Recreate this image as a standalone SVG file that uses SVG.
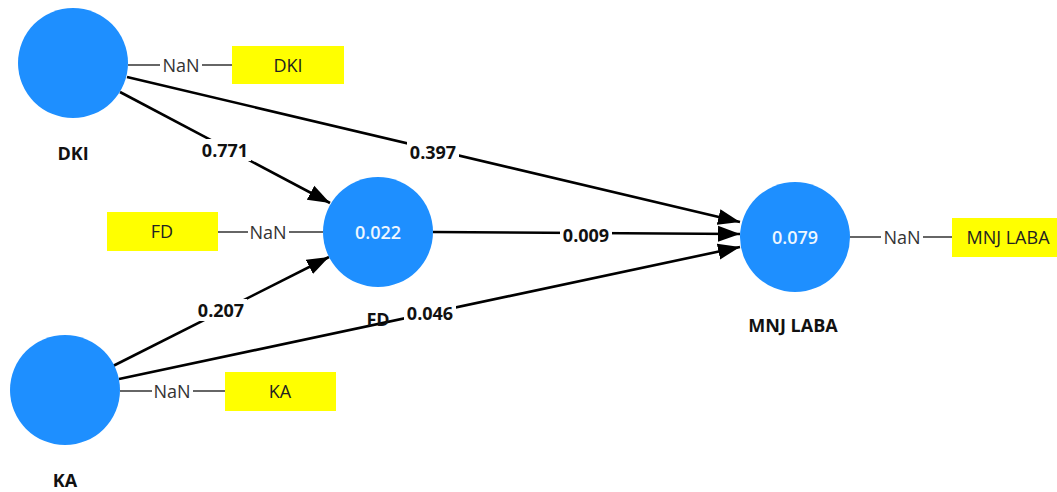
<svg xmlns="http://www.w3.org/2000/svg" width="1057" height="492" viewBox="0 0 1057 492">
<style>
.lv{fill:#1e8fff}
.ind{fill:#ffff00}
.ltxt{font-family:"Open Sans","Noto Sans",sans-serif;font-weight:bold;font-size:18px;fill:#111;text-anchor:middle}
.ctxt{font-family:"Open Sans","Noto Sans",sans-serif;font-weight:600;font-size:18px;fill:#eef7ff;text-anchor:middle;dominant-baseline:central}
.btxt{font-family:"Open Sans","Noto Sans",sans-serif;font-size:18px;fill:#222;text-anchor:middle;dominant-baseline:central}
.nan{font-family:"Open Sans","Noto Sans",sans-serif;font-size:18px;fill:#333;text-anchor:middle;dominant-baseline:central}
.thin{stroke:#333;stroke-width:1.5}
.path{stroke:#000;stroke-width:2.6;fill:none;marker-end:url(#ah)}
.etxt{font-family:"Open Sans","Noto Sans",sans-serif;font-weight:bold;font-size:18px;fill:#111;text-anchor:middle;dominant-baseline:central}
</style>
<defs>
<marker id="ah" markerUnits="userSpaceOnUse" markerWidth="24" markerHeight="18" refX="22" refY="9" orient="auto">
<path d="M0,1 L22,9 L0,17 Z" fill="#000"/>
</marker>
</defs>
<rect width="1057" height="492" fill="#fff"/>
<g id="connectors">
<line class="path" x1="120" y1="92" x2="330" y2="203"/>
<line class="path" x1="127" y1="77" x2="740" y2="222"/>
<line class="path" x1="433" y1="232" x2="740" y2="234"/>
<line class="path" x1="113" y1="366" x2="329" y2="257"/>
<line class="path" x1="119" y1="379" x2="740" y2="247"/>
<rect x="199" y="139" width="52" height="22" fill="#fff"/>
<text class="etxt" x="225" y="150">0.771</text>
<rect x="407" y="141" width="52" height="22" fill="#fff"/>
<text class="etxt" x="433" y="152">0.397</text>
<rect x="560" y="224" width="52" height="22" fill="#fff"/>
<text class="etxt" x="586" y="235">0.009</text>
<rect x="195" y="299" width="52" height="22" fill="#fff"/>
<text class="etxt" x="221" y="310">0.207</text>
<rect x="404" y="302" width="52" height="22" fill="#fff"/>
<text class="etxt" x="430" y="313">0.046</text>
</g>
<g id="DKI">
<circle class="lv" cx="73" cy="63" r="55"/>
<text class="ltxt" x="73" y="160">DKI</text>
<line class="thin" x1="128" y1="65" x2="160" y2="65"/>
<text class="nan" x="181" y="65">NaN</text>
<line class="thin" x1="202" y1="65" x2="232" y2="65"/>
<rect class="ind" x="232" y="46" width="112" height="38"/>
<text class="btxt" x="288" y="65">DKI</text>
</g>
<g id="FD">
<circle class="lv" cx="378" cy="232" r="55"/>
<text class="ctxt" x="378" y="232">0.022</text>
<text class="ltxt" x="378" y="326">FD</text>
<rect class="ind" x="107" y="212" width="111" height="39"/>
<text class="btxt" x="162" y="231">FD</text>
<line class="thin" x1="218" y1="232" x2="248" y2="232"/>
<text class="nan" x="268" y="232">NaN</text>
<line class="thin" x1="289" y1="232" x2="323" y2="232"/>
</g>
<g id="KA">
<circle class="lv" cx="65" cy="390" r="55"/>
<text class="ltxt" x="65" y="487">KA</text>
<line class="thin" x1="120" y1="391" x2="152" y2="391"/>
<text class="nan" x="172" y="391">NaN</text>
<line class="thin" x1="193" y1="391" x2="225" y2="391"/>
<rect class="ind" x="225" y="372" width="111" height="39"/>
<text class="btxt" x="280" y="391">KA</text>
</g>
<g id="MNJ_LABA">
<circle class="lv" cx="795" cy="237" r="55"/>
<text class="ctxt" x="795" y="237">0.079</text>
<text class="ltxt" x="793" y="332">MNJ LABA</text>
<line class="thin" x1="850" y1="237" x2="881" y2="237"/>
<text class="nan" x="902" y="237">NaN</text>
<line class="thin" x1="923" y1="237" x2="952" y2="237"/>
<rect class="ind" x="952" y="218" width="112" height="39"/>
<text class="btxt" x="1008" y="237">MNJ LABA</text>
</g>
</svg>
